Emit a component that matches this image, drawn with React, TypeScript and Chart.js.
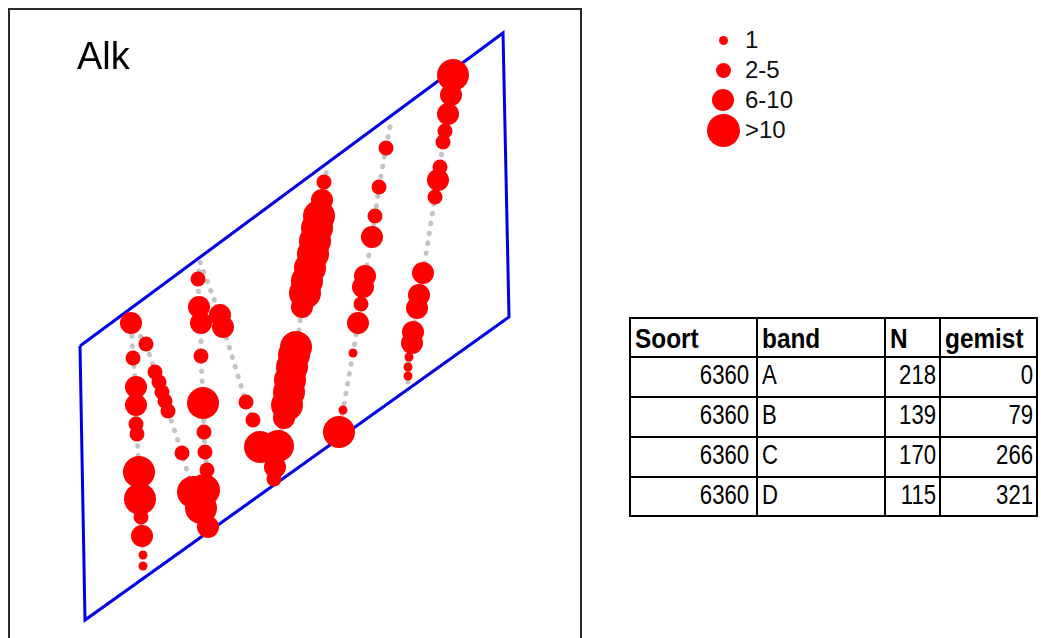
import React, { useEffect, useRef } from "react";
import { Chart, registerables } from "chart.js";

Chart.register(...registerables);

// Field coordinates (x, y in metres) and number of individuals per observation point.
// count 0 = point on the route without observations.
const westRoute: [number, number, number][] = [
  // transect 1 (bottom -> top)
  [13.3, 7.4, 1], [13.3, 8.5, 1], [13.2, 10.4, 8], [13.1, 12.3, 4], [13.0, 14.1, 14], [12.9, 16.8, 15],
  [12.7, 20.6, 2], [12.6, 21.6, 3], [12.6, 23.5, 7], [12.6, 25.3, 6], [12.3, 28.2, 4], [12.1, 31.7, 7],
  // transect 2 (top -> bottom)
  [13.6, 29.6, 3], [14.5, 26.8, 4], [14.9, 25.8, 3], [15.2, 24.8, 3], [15.5, 23.9, 2], [15.8, 22.9, 3],
  [17.2, 18.7, 4],
  // cluster at the bottom
  [18.3, 14.8, 12], [19.4, 15.0, 13], [19.1, 13.2, 11], [19.8, 11.3, 7],
  // transect 3 (bottom -> top)
  [19.7, 17.0, 3], [19.5, 18.8, 4], [19.4, 20.8, 3], [19.3, 23.7, 16], [19.1, 28.4, 4], [19.1, 31.7, 7],
  [18.9, 33.3, 8], [18.8, 36.1, 3], [19.0, 37.8, 0],
  // transect 4 (top -> bottom)
  [21.0, 32.5, 9], [21.3, 31.3, 10], [23.6, 23.8, 3], [24.3, 22.0, 4], [25.0, 19.3, 15], [26.4, 16.1, 3],
  [26.5, 17.3, 8], [26.8, 19.4, 14],
  // transect 5 (bottom -> top)
  [27.4, 22.2, 8], [27.7, 23.5, 14], [27.9, 24.8, 14], [28.0, 26.0, 13], [28.2, 27.3, 14], [28.4, 28.5, 15],
  [28.6, 29.3, 12], [28.8, 30.3, 1], [29.2, 33.3, 9], [29.5, 34.7, 13], [29.7, 35.9, 15], [30.0, 37.2, 12],
  [30.3, 38.6, 15], [30.5, 39.9, 13], [30.7, 41.2, 14], [30.9, 42.4, 12], [31.2, 44.0, 8], [31.4, 45.8, 4],
  [31.7, 47.0, 0],
];

const eastRoute1: [number, number, number][] = [
  [38.0, 51.3, 0], [37.6, 49.2, 3], [36.9, 45.3, 4], [36.5, 42.4, 3], [36.2, 40.3, 7], [35.5, 36.4, 9],
  [35.3, 35.3, 6], [35.1, 33.6, 4], [34.8, 31.7, 7], [34.3, 28.7, 1], [33.3, 23.0, 1], [32.9, 20.8, 16],
];

const eastRoute2: [number, number, number][] = [
  [44.3, 56.5, 18], [44.1, 54.5, 8], [43.8, 52.6, 9], [43.5, 50.9, 4], [43.3, 49.8, 5], [43.0, 47.3, 3],
  [42.8, 46.0, 7], [42.5, 44.3, 4], [41.3, 36.7, 8], [40.9, 34.5, 9], [40.7, 33.2, 7], [40.3, 30.8, 8],
  [40.2, 29.7, 6], [39.9, 28.3, 1], [39.8, 27.3, 1], [39.8, 26.4, 1], [39.8, 25.4, 0],
];

// Survey area outline (closed)
const areaX = [7.0, 49.3, 49.9, 7.5, 7.0];
const areaY = [29.4, 60.7, 32.3, 2.0, 29.4];

const title = "Alk";
const sizeClasses = ["1", "2-5", "6-10", ">10"];
const sizeClassCounts = [1, 3, 8, 15];

const tableHeader = ["Soort", "band", "N", "gemist"];
const tableSoort = [6360, 6360, 6360, 6360];
const tableBand = ["A", "B", "C", "D"];
const tableN = [218, 139, 170, 115];
const tableGemist = [0, 79, 266, 321];

const RED = "#ff0000";

function radiusFor(n: number): number {
  if (n <= 0) return 0;
  if (n === 1) return 4.5;
  if (n <= 5) return 7.5;
  if (n <= 10) return 11;
  return 16;
}

function routeDataset(route: [number, number, number][]) {
  const radii = route.map((p) => radiusFor(p[2]));
  return {
    type: "scatter" as const,
    data: route.map((p) => ({ x: p[0], y: p[1] })),
    showLine: true,
    borderColor: "#c4c4c4",
    borderWidth: 5,
    borderDash: [0.5, 9.5],
    borderCapStyle: "round" as const,
    pointRadius: radii,
    pointHoverRadius: radii,
    pointBackgroundColor: RED,
    pointBorderColor: RED,
    pointBorderWidth: 0,
    order: 1,
  };
}

function MapChart() {
  const ref = useRef<HTMLCanvasElement | null>(null);
  useEffect(() => {
    if (!ref.current) return;
    const chart = new Chart(ref.current, {
      type: "scatter",
      data: {
        datasets: [
          routeDataset(westRoute),
          routeDataset(eastRoute1),
          routeDataset(eastRoute2),
          {
            type: "scatter",
            data: areaX.map((x, i) => ({ x, y: areaY[i] })),
            showLine: true,
            borderColor: "#0000e8",
            borderWidth: 3,
            borderJoinStyle: "miter",
            pointRadius: 0,
            pointHoverRadius: 0,
            order: 2,
          } as any,
        ],
      },
      options: {
        animation: false,
        responsive: false,
        maintainAspectRatio: false,
        devicePixelRatio: 1,
        events: [],
        layout: { padding: 0, autoPadding: false },
        scales: {
          x: { type: "linear", min: 0, max: 57, display: false },
          y: { type: "linear", min: 0, max: 63, display: false },
        },
        plugins: { legend: { display: false }, tooltip: { enabled: false } },
      },
    });
    return () => chart.destroy();
  }, []);
  return <canvas ref={ref} width={570} height={630} style={{ position: "absolute", left: 0, top: 0 }} />;
}

const colX = [630, 757, 885, 940, 1037];
const rowY = [318, 357, 397, 437, 477, 516];

function DataTable() {
  const rows: (string | number)[][] = [tableHeader];
  tableSoort.forEach((s, i) => rows.push([s, tableBand[i], tableN[i], tableGemist[i]]));
  const cells: React.ReactNode[] = [];
  rows.forEach((row, r) => {
    row.forEach((val, c) => {
      const header = r === 0;
      const alignRight = !header && c !== 1;
      cells.push(
        <div
          key={`${r}-${c}`}
          style={{
            position: "absolute",
            left: colX[c] - 1,
            top: rowY[r] - 1,
            width: colX[c + 1] - colX[c] + 2,
            height: rowY[r + 1] - rowY[r] + 2,
            boxSizing: "border-box",
            border: "2px solid #000",
            display: "flex",
            alignItems: "center",
            justifyContent: alignRight ? "flex-end" : "flex-start",
            paddingLeft: 4,
            paddingRight: c === 0 ? 7 : 3,
            paddingTop: header ? 3 : 0,
            paddingBottom: header ? 0 : 3,
            fontFamily: '"Liberation Sans", Arial, sans-serif',
            fontWeight: header ? "bold" : "normal",
            fontSize: header ? 28 : 27,
            color: "#000",
            whiteSpace: "nowrap",
          }}
        >
          <span
            style={{
              display: "inline-block",
              transform: `scaleX(${header ? 0.87 : 0.82})`,
              transformOrigin: alignRight ? "right center" : "left center",
            }}
          >
            {String(val)}
          </span>
        </div>
      );
    });
  });
  return <>{cells}</>;
}

function SizeLegend() {
  return (
    <>
      {sizeClasses.map((label, i) => {
        const cy = 40 + i * 30;
        const r = i === 3 ? 16.5 : radiusFor(sizeClassCounts[i]);
        return (
          <React.Fragment key={label}>
            <div
              style={{
                position: "absolute",
                left: 723 - r,
                top: cy - r,
                width: 2 * r,
                height: 2 * r,
                borderRadius: "50%",
                background: RED,
              }}
            />
            <div
              style={{
                position: "absolute",
                left: 745,
                top: cy - 15,
                height: 30,
                lineHeight: "30px",
                fontSize: 24,
                fontFamily: '"Liberation Sans", Arial, sans-serif',
                color: "#111",
              }}
            >
              {label}
            </div>
          </React.Fragment>
        );
      })}
    </>
  );
}

export default function App() {
  return (
    <div
      style={{
        position: "fixed",
        left: 0,
        top: 0,
        width: 1041,
        height: 638,
        overflow: "hidden",
        background: "#fff",
      }}
    >
      <div
        style={{
          position: "absolute",
          left: 8,
          top: 8,
          width: 570,
          height: 640,
          border: "2px solid #2a2a2a",
          background: "#fff",
        }}
      >
        <MapChart />
        <div
          style={{
            position: "absolute",
            left: 67,
            top: 27,
            fontSize: 38,
            lineHeight: "38px",
            fontFamily: '"Liberation Sans", Arial, sans-serif',
            color: "#000",
          }}
        >
          {title}
        </div>
      </div>
      <SizeLegend />
      <DataTable />
    </div>
  );
}
